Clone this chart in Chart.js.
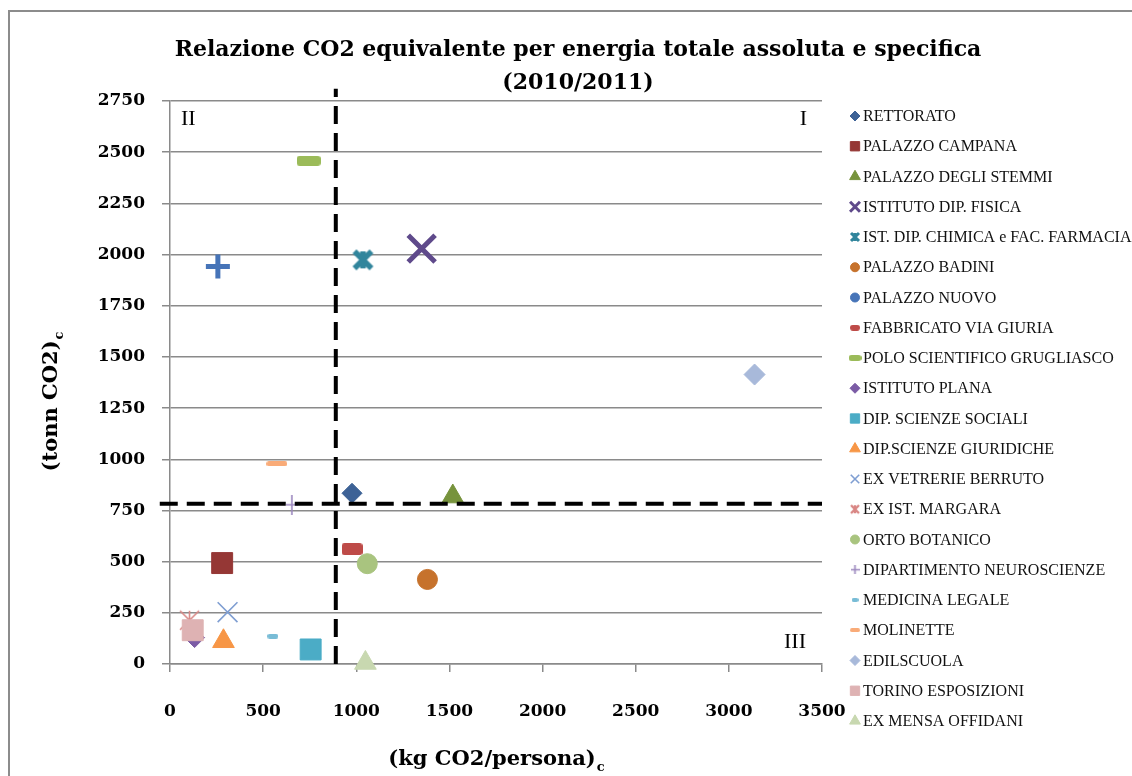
<!DOCTYPE html>
<html>
<head>
<meta charset="utf-8">
<script src="https://cdn.jsdelivr.net/npm/chart.js@4/dist/chart.umd.min.js"></script>
<style>
  html, body { margin: 0; padding: 0; background: #fff; overflow: hidden; }
  #wrap { width: 1132px; height: 776px; position: relative; }
</style>
</head>
<body>
<div id="wrap"><canvas id="c" width="1132" height="776"></canvas></div>
<script>
// ---- data ----
const buildings = [
  'RETTORATO', 'PALAZZO CAMPANA', 'PALAZZO DEGLI STEMMI', 'ISTITUTO DIP. FISICA',
  'IST. DIP. CHIMICA e FAC. FARMACIA', 'PALAZZO BADINI', 'PALAZZO NUOVO',
  'FABBRICATO VIA GIURIA', 'POLO SCIENTIFICO GRUGLIASCO', 'ISTITUTO PLANA',
  'DIP. SCIENZE SOCIALI', 'DIP.SCIENZE GIURIDICHE', 'EX VETRERIE BERRUTO',
  'EX IST. MARGARA', 'ORTO BOTANICO', 'DIPARTIMENTO NEUROSCIENZE', 'MEDICINA LEGALE',
  'MOLINETTE', 'EDILSCUOLA', 'TORINO ESPOSIZIONI', 'EX MENSA OFFIDANI'
];
// specific emissions (kg CO2 per person)
const kgPerPerson = [977, 280, 1518, 1351, 1036, 1382, 257, 977, 744, 132, 755, 287, 309, 105, 1059, 654, 552, 574, 3138, 122, 1049];
// absolute emissions (tonn CO2)
const tonnesCO2 = [834, 493, 818, 2029, 1974, 413, 1941, 561, 2458, 129, 71, 111, 253, 214, 490, 778, 136, 978, 1414, 165, 5];

// quadrant thresholds and the extent of the dashed dividers
const dividerKg = 890;
const dividerTonnes = 783;
const dividerSpanTonnes = [0, 2810];
const dividerSpanKg = [-55, 3500];

const xRange = [0, 3500, 500];
const yRange = [0, 2750, 250];

const chartTitle = ['Relazione CO2 equivalente per energia totale assoluta e specifica', '(2010/2011)'];
const xTitle = ['(kg CO2/persona)', 'c'];
const yTitle = ['(tonn CO2)', 'c'];
const quadrantNames = ['I', 'II', 'III'];

// ---- marker shapes ----
function barMarker(w, h, color) {
  const c = document.createElement('canvas');
  c.width = Math.ceil(w); c.height = Math.ceil(h);
  const g = c.getContext('2d');
  const r = Math.min(h / 2, 3);
  g.fillStyle = color;
  g.beginPath();
  g.roundRect(0, 0, w, h, r);
  g.fill();
  return c;
}
function asteriskMarker(size, lw, color) {
  const c = document.createElement('canvas');
  const pad = Math.ceil(lw);
  c.width = c.height = Math.ceil(size + pad * 2);
  const g = c.getContext('2d');
  const m = c.width / 2, h = size / 2;
  g.strokeStyle = color; g.lineWidth = lw; g.lineCap = 'butt';
  g.beginPath();
  g.moveTo(m - h, m - h); g.lineTo(m + h, m + h);
  g.moveTo(m + h, m - h); g.lineTo(m - h, m + h);
  g.moveTo(m, m - h); g.lineTo(m, m + h);
  g.stroke();
  return c;
}
function plusMarker(w, h, lw, color) {
  const c = document.createElement('canvas');
  c.width = Math.ceil(w); c.height = Math.ceil(h);
  const g = c.getContext('2d');
  g.strokeStyle = color; g.lineWidth = lw;
  g.beginPath();
  g.moveTo(0, h / 2); g.lineTo(w, h / 2);
  g.moveTo(w / 2, 0); g.lineTo(w / 2, h);
  g.stroke();
  return c;
}

// per-building marker styles: chart marker and the smaller legend key
const markerStyles = [
  { color: '#3D6296', style: 'rectRot', r: 10, bw: 1, key: { style: 'rectRot', r: 5 } },
  { color: '#953735', style: 'rect', r: 14.8, bw: 1, key: { style: 'rect', r: 6.6 } },
  { color: '#77933C', style: 'triangle', r: 12.5, bw: 1, key: { style: 'triangle', r: 6.2 } },
  { color: '#5F4A8B', style: 'crossRot', r: 19, bw: 5, key: { style: 'crossRot', r: 7, bw: 3 } },
  { color: '#31859C', img: () => asteriskMarker(17, 5.5, '#31859C'), key: { img: () => asteriskMarker(8, 3, '#31859C') } },
  { color: '#C6722C', style: 'circle', r: 10, bw: 1, key: { style: 'circle', r: 4.5 } },
  { color: '#4674B8', style: 'cross', r: 12, bw: 5, key: { style: 'circle', r: 4.5 } },
  { color: '#BE4B48', img: () => barMarker(21, 12, '#BE4B48'), key: { img: () => barMarker(10, 6, '#BE4B48') } },
  { color: '#9BBB59', img: () => barMarker(24, 10, '#9BBB59'), key: { img: () => barMarker(13, 6, '#9BBB59') } },
  { color: '#7B5BA5', style: 'rectRot', r: 10, bw: 1, key: { style: 'rectRot', r: 5 } },
  { color: '#4BACC6', style: 'rect', r: 14.8, bw: 1, key: { style: 'rect', r: 6.6 } },
  { color: '#F79646', style: 'triangle', r: 12.5, bw: 1, key: { style: 'triangle', r: 6.2 } },
  { color: '#7F9ED2', style: 'crossRot', r: 14, bw: 1.6, key: { style: 'crossRot', r: 6, bw: 1.6 } },
  { color: '#D98684', img: () => asteriskMarker(19, 1.6, '#D98684'), key: { img: () => asteriskMarker(8, 2.4, '#D98684') } },
  { color: '#A9C47F', style: 'circle', r: 10, bw: 1, key: { style: 'circle', r: 4.5 } },
  { color: '#9B87BE', img: () => plusMarker(12, 20, 1.6, '#9B87BE'), key: { img: () => plusMarker(9, 9, 1.6, '#9B87BE') } },
  { color: '#78BCD6', img: () => barMarker(11, 5, '#78BCD6'), key: { img: () => barMarker(7, 4, '#78BCD6') } },
  { color: '#F9AB78', img: () => barMarker(21, 5, '#F9AB78'), key: { img: () => barMarker(10, 4, '#F9AB78') } },
  { color: '#A8B9DA', style: 'rectRot', r: 10.5, bw: 1, key: { style: 'rectRot', r: 5 } },
  { color: '#DEB2B3', style: 'rect', r: 14.8, bw: 1, key: { style: 'rect', r: 6.6 } },
  { color: '#C8D8B0', style: 'triangle', r: 12.5, bw: 1, key: { style: 'triangle', r: 6.2 } }
];
markerStyles.forEach(m => {
  if (m.img) m.style = m.img();
  if (m.key.img) m.key.style = m.key.img();
});

const serif = '"Liberation Serif", "DejaVu Serif", serif';
const wideSerif = '"DejaVu Serif", "Liberation Serif", serif';
const gridGray = '#8a8a8a';

// ---- datasets ----
const pointSets = buildings.map((name, i) => ({
  type: 'scatter',
  label: name,
  data: [{ x: kgPerPerson[i], y: tonnesCO2[i] }],
  backgroundColor: markerStyles[i].color,
  borderColor: markerStyles[i].color,
  pointStyle: markerStyles[i].style,
  pointRadius: markerStyles[i].r || 10,
  pointBorderWidth: markerStyles[i].bw || 0,
  pointHoverRadius: markerStyles[i].r || 10,
  clip: false,
  order: buildings.length - i     // later buildings are painted on top
}));

const dividerSets = [
  { type: 'line', label: 'soglia kg', data: [{ x: dividerKg, y: dividerSpanTonnes[0] }, { x: dividerKg, y: dividerSpanTonnes[1] }] },
  { type: 'line', label: 'soglia tonn', data: [{ x: dividerSpanKg[0], y: dividerTonnes }, { x: dividerSpanKg[1], y: dividerTonnes }] }
].map(d => Object.assign(d, {
  borderColor: '#000', borderWidth: 4, borderDash: [18, 9], pointRadius: 0,
  fill: false, clip: false, order: -1
}));

// ---- decorations: frame, title, axis titles, quadrant labels, legend ----
function subscriptText(ctx, parts, x, y, size, family) {
  const subSize = Math.round(size * 0.62);
  ctx.font = 'bold ' + size + 'px ' + family;
  const wMain = ctx.measureText(parts[0]).width;
  ctx.font = 'bold ' + subSize + 'px ' + family;
  const wSub = ctx.measureText(parts[1]).width;
  const start = x - (wMain + wSub) / 2;
  ctx.textAlign = 'left';
  ctx.textBaseline = 'alphabetic';
  ctx.font = 'bold ' + size + 'px ' + family;
  ctx.fillText(parts[0], start, y);
  ctx.font = 'bold ' + subSize + 'px ' + family;
  ctx.fillText(parts[1], start + wMain + 1, y + size * 0.28);
}

const decor = {
  id: 'decor',
  beforeDraw(chart) {
    const ctx = chart.ctx;
    ctx.save();
    ctx.fillStyle = '#fff';
    ctx.fillRect(0, 0, chart.width, chart.height);
    ctx.strokeStyle = '#8c8c8c';
    ctx.lineWidth = 2;
    ctx.strokeRect(9, 11, chart.width + 50, chart.height + 50);
    ctx.restore();
  },
  afterDraw(chart) {
    const ctx = chart.ctx;
    const a = chart.chartArea;
    ctx.save();
    ctx.fillStyle = '#000';

    // title
    ctx.font = 'bold 22px ' + wideSerif;
    ctx.textAlign = 'center';
    ctx.textBaseline = 'alphabetic';
    ctx.fillText(chartTitle[0], 578, 56);
    ctx.fillText(chartTitle[1], 578, 89);

    // axis titles
    subscriptText(ctx, xTitle, (a.left + a.right) / 2, 765, 21, wideSerif);
    ctx.save();
    ctx.translate(57, 402);
    ctx.rotate(-Math.PI / 2);
    subscriptText(ctx, yTitle, 0, 0, 21, wideSerif);
    ctx.restore();

    // quadrant labels
    ctx.font = '22px ' + serif;
    ctx.textBaseline = 'middle';
    ctx.textAlign = 'right';
    ctx.fillText(quadrantNames[0], a.right - 15, a.top + 18);
    ctx.textAlign = 'left';
    ctx.fillText(quadrantNames[1], a.left + 11, a.top + 18);
    ctx.textAlign = 'right';
    ctx.fillText(quadrantNames[2], a.right - 16, a.bottom - 22);

    // legend
    const lx = 855, ly = 116, step = 30.25;
    ctx.font = '16px ' + serif;
    ctx.textAlign = 'left';
    ctx.textBaseline = 'middle';
    buildings.forEach((name, i) => {
      const y = ly + i * step;
      const k = markerStyles[i].key;
      ctx.fillStyle = markerStyles[i].color;
      ctx.strokeStyle = markerStyles[i].color;
      ctx.lineWidth = k.bw || 1;
      Chart.helpers.drawPoint(ctx, { pointStyle: k.style, radius: k.r || 5, borderWidth: k.bw || 1, rotation: 0 }, lx, y);
      ctx.fillStyle = '#111';
      ctx.fillText(name, lx + 8, y + 1);
    });
    ctx.restore();
  }
};

const tickFont = { family: wideSerif, size: 17, weight: 'bold' };
const plainNumber = v => String(v);

new Chart(document.getElementById('c'), {
  data: { datasets: [...pointSets, ...dividerSets] },
  options: {
    responsive: false,
    devicePixelRatio: 1,
    animation: false,
    layout: { padding: { left: 0, right: 310, top: 101, bottom: 0 } },
    plugins: { legend: { display: false }, tooltip: { enabled: false }, title: { display: false } },
    scales: {
      x: {
        type: 'linear',
        min: xRange[0], max: xRange[1],
        afterFit: s => { s.height = 112; },
        ticks: { stepSize: xRange[2], padding: 29, color: '#000', font: tickFont, callback: plainNumber },
        grid: { drawOnChartArea: false, drawTicks: true, tickLength: 8, color: gridGray, lineWidth: 1.5 },
        border: { color: gridGray, width: 1.5 }
      },
      y: {
        type: 'linear',
        min: yRange[0], max: yRange[1],
        afterFit: s => { s.width = 170; },
        ticks: { stepSize: yRange[2], padding: 17, color: '#000', font: tickFont, callback: plainNumber },
        grid: { drawTicks: true, tickLength: 8, color: gridGray, lineWidth: 1.5 },
        border: { color: gridGray, width: 1.5 }
      }
    }
  },
  plugins: [decor]
});
</script>
</body>
</html>
